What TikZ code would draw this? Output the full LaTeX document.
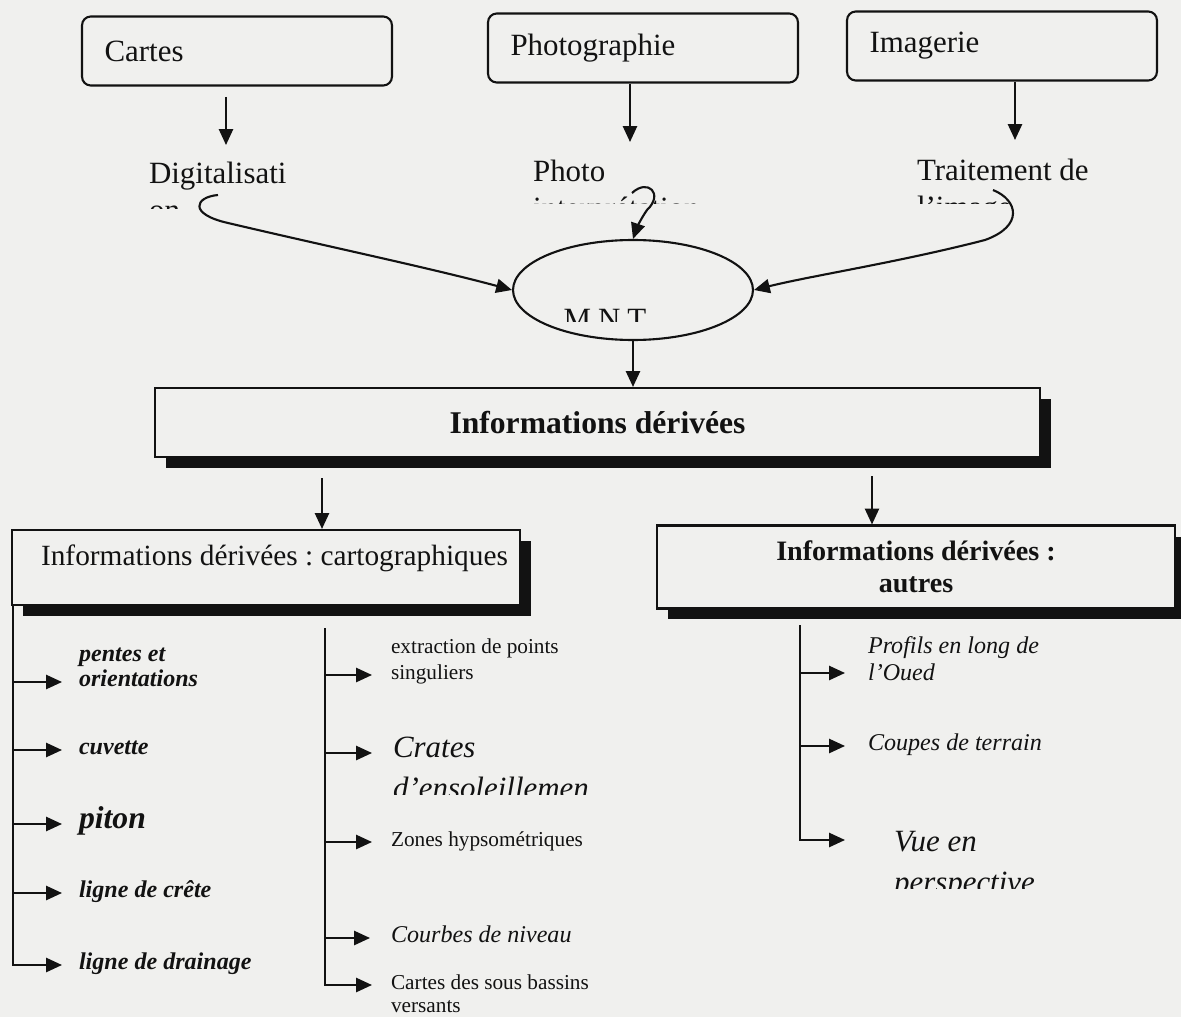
\documentclass[tikz,border=0pt]{standalone}
\usepackage{fontspec}
\setmainfont{Liberation Serif}
\usetikzlibrary{arrows.meta,shapes.geometric,shadows}
\definecolor{paper}{RGB}{240,240,238}
\definecolor{ink}{RGB}{18,18,18}
\newcommand\szBig{\fontsize{17.6}{21}\selectfont}
\newcommand\szMid{\fontsize{13.7}{16}\selectfont}
\newcommand\szSmall{\fontsize{12.1}{14}\selectfont}
\frenchspacing
\begin{document}
\begin{tikzpicture}[x=0.02cm,y=-0.02cm,line width=1.2pt,draw=ink,text=ink,
  arr/.style={-{Triangle[length=9pt,width=8pt]},line width=1.2pt},
  srcbox/.style={draw,fill=paper,rounded corners=5pt,minimum width=6.2cm,
    minimum height=1.38cm,text width=5.3cm,inner xsep=0.45cm,align=left,font=\szBig},
  shbox/.style={draw,fill=paper,inner sep=0pt,
    drop shadow={shadow xshift=0.22cm,shadow yshift=-0.22cm,fill=ink,opacity=1}},
  lbl/.style={inner sep=0pt,anchor=base west,font=\szBig},
  item/.style={inner sep=0pt,anchor=west,text height=1ex,text depth=0pt},
  leftitem/.style={item,font=\szMid\bfseries\itshape},
  miditem/.style={item,font=\szSmall},
  rightitem/.style={item,font=\szMid\itshape}]

% paper
\fill[paper] (0,0) rectangle (1181,1017);
\useasboundingbox (0,0) rectangle (1181,1017);

% data sources
\node[srcbox] (cartes) at (237,51) {Cartes};
\node[srcbox] (photo)  at (643,48) {Photographie};
\node[srcbox] (imag)   at (1002,46) {Imagerie};

\coordinate (a1) at (226,97);
\draw[arr] (a1) -- (226,145);
\draw[arr] (photo.south -| 630,0) -- (630,142);
\draw[arr] (imag.south -| 1015,0) -- (1015,140);

% processing steps
\node[lbl] (digit) at (148,184) {Digitalisati};
\node[lbl] (phint) at (532,182) {Photo};
\node[lbl] (trait) at (916,181) {Traitement de};
\begin{scope}
  \clip (140,196) rectangle (300,209);
  \node[lbl] (digit2) at (148,220) {on};
\end{scope}
\begin{scope}
  \clip (525,196) rectangle (712,204);
  \node[lbl] (phint2) at (532,218) {interprétation};
\end{scope}
\begin{scope}
  \clip (905,194) rectangle (1020,204);
  \node[lbl] (trait2) at (916,217) {l’image};
\end{scope}

% terrain model
\node[draw,ellipse,fill=paper,minimum width=4.8cm,minimum height=2cm] (mnt) at (633,290) {};
\begin{scope}
  \clip (550,302) rectangle (670,321);
  \node[inner sep=0pt,anchor=base,font=\szBig] (mnttxt) at (605,329) {M\kern4pt N\kern4pt T};
\end{scope}

\coordinate (c1) at (218,195);
\coordinate (c2) at (632,193);
\coordinate (c3) at (993,190);
\draw[arr] (c1) .. controls (195,197) and (188,214) .. (228,223)
               .. controls (330,247) and (430,268) .. (mnt.west);
\draw[arr] (c2) .. controls (648,178) and (664,194) .. (647,210)
               .. controls (640,220) and (636,230) .. (mnt.north);
\draw[arr] (c3) .. controls (1018,200) and (1024,226) .. (985,240)
               .. controls (900,262) and (810,276) .. (mnt.east);

% derived information
\node[shbox,minimum width=17.7cm,minimum height=1.38cm,
      font=\bfseries\fontsize{18}{21}\selectfont] (info) at (597.5,422.5) {Informations dérivées};
\draw[arr] (mnt.south) -- (mnt.south |- info.north);

\node[shbox,minimum width=10.16cm,minimum height=1.5cm] (carto) at (266,567.5) {};
\node[inner sep=0pt,anchor=base west,font=\fontsize{16.7}{20}\selectfont] (cartotxt) at (40,565)
  {Informations dérivées : cartographiques};
\node[shbox,minimum width=10.36cm,minimum height=1.66cm,align=center,
      font=\bfseries\fontsize{16}{18.2}\selectfont] (autres) at (916,567)
  {Informations dérivées :\\autres};

\coordinate (dl) at (322,478);
\coordinate (dr) at (872,476);
\draw[arr] (dl) -- (dl |- carto.north);
\draw[arr] (dr) -- (dr |- autres.north);

% cartographic products
\node[leftitem] (pentes1) at (78,657) {pentes et};
\node[leftitem] (pentes2) at (78,682) {orientations};
\node[leftitem] (cuvette) at (78,750) {cuvette};
\node[leftitem,font=\fontsize{18}{21}\selectfont\bfseries\itshape] (piton) at (78,824) {piton};
\node[leftitem] (crete) at (78,893) {ligne de crête};
\node[leftitem] (drain) at (78,965) {ligne de drainage};
\coordinate (tL) at (13,605);
\draw[arr] (tL) |- ([xshift=-0.32cm]drain.west);
\foreach \n in {pentes2,cuvette,piton,crete}
  \draw[arr] (tL |- \n.west) -- ([xshift=-0.32cm]\n.west);

\node[miditem] (ext1) at (390,649) {extraction de points};
\node[miditem] (ext2) at (390,675) {singuliers};
\node[miditem,font=\szBig\itshape] (crates) at (392,753) {Crates};
\begin{scope}
  \clip (385,772) rectangle (620,794);
  \node[lbl,font=\szBig\itshape] (ensol) at (392,798) {d’ensoleillemen};
\end{scope}
\node[miditem] (zones) at (390,842) {Zones hypsométriques};
\node[miditem,font=\szMid\itshape] (courbes) at (390,938) {Courbes de niveau};
\node[miditem] (sbv1) at (390,985) {Cartes des sous bassins};
\node[miditem] (sbv2) at (390,1008) {versants};
\coordinate (tM) at (325,628);
\draw[arr] (tM) |- ([xshift=-0.36cm]sbv1.west);
\draw[arr] (tM |- ext2.west) -- ([xshift=-0.36cm]ext2.west);
\draw[arr] (tM |- crates.west) -- ([xshift=-0.4cm]crates.west);
\draw[arr] (tM |- zones.west) -- ([xshift=-0.36cm]zones.west);
\draw[arr] (tM |- courbes.west) -- ([xshift=-0.4cm]courbes.west);

% other products
\node[rightitem] (prof1) at (867,649) {Profils en long de};
\node[rightitem] (prof2) at (867,676) {l’Oued};
\node[rightitem] (coupes) at (867,746) {Coupes de terrain};
\node[rightitem,font=\szBig\itshape] (vue) at (893,847) {Vue en};
\begin{scope}
  \clip (885,866) rectangle (1070,888);
  \node[lbl,font=\szBig\itshape] (persp) at (893,892) {perspective};
\end{scope}
\coordinate (tR) at (800,625);
\coordinate (ouedtip) at ([xshift=-0.44cm,yshift=0.06cm]prof2.west);
\draw[arr] (tR) |- ([xshift=-0.96cm,yshift=0.14cm]vue.west);
\draw[arr] (tR |- ouedtip) -- (ouedtip);
\draw[arr] (tR |- coupes.west) -- ([xshift=-0.44cm]coupes.west);
\end{tikzpicture}
\end{document}
